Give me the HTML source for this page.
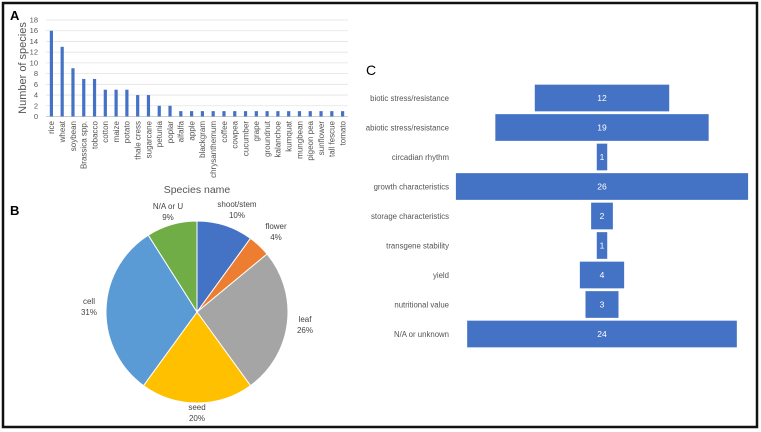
<!DOCTYPE html>
<html><head><meta charset="utf-8"><style>
body{margin:0;background:#fff;width:761px;height:432px;overflow:hidden}
svg{display:block;font-family:"Liberation Sans",sans-serif}
</style></head><body>
<svg id="s" width="761" height="432">
<rect x="3" y="3" width="754" height="424" fill="none" stroke="#111" stroke-width="2.5"/>
<text x="10" y="20" font-size="13" font-weight="bold">A</text>
<text x="10" y="215" font-size="13" font-weight="bold">B</text>
<text x="366" y="75" font-size="14">C</text>
<g id="ga"></g>
<g id="gb"></g>
<g id="gc"></g>
</svg>
<script>
const species=["rice","wheat","soybean","Brassica spp.","tobacco","cotton","maize","potato","thale cress","sugarcane","petunia","poplar","alfalfa","apple","blackgram","chrysanthemum","coffee","cowpea","cucumber","grape","groundnut","kalanchoe","kumquat","mungbean","pigeon pea","sunflower","tall fescue","tomato"];
const speciesCounts=[16,13,9,7,7,5,5,5,4,4,2,2,1,1,1,1,1,1,1,1,1,1,1,1,1,1,1,1];
const yTicks=[0,2,4,6,8,10,12,14,16,18];
const tissues=["shoot/stem","flower","leaf","seed","cell","N/A or U"];
const tissuePct=[10,4,26,20,31,9];
const traits=["biotic stress/resistance","abiotic stress/resistance","circadian rhythm","growth characteristics","storage characteristics","transgene stability","yield","nutritional value","N/A or unknown"];
const traitCounts=[12,19,1,26,2,1,4,3,24];
const NS="http://www.w3.org/2000/svg";
function mk(p,t,a,txt){const e=document.createElementNS(NS,t);for(const k in a)e.setAttribute(k,a[k]);if(txt!==undefined)e.textContent=txt;p.appendChild(e);return e;}
// A
const ga=document.getElementById('ga');
const x0=46,x1=348,yb=116.5,yt=20;
const yS=v=>yb-(v/18)*(yb-yt);
const step=(x1-x0)/species.length;
const xS=i=>x0+step*(i+0.5);
yTicks.forEach(v=>{
 let l=mk(ga,'line',{x1:x0,x2:x1,y1:yS(v),y2:yS(v),stroke:v?'#e3e3e3':'#bbb','stroke-width':0.8});
 
 let t=mk(ga,'text',{x:38,y:yS(v)+2.5,'font-size':7.5,fill:'#555','text-anchor':'end'},v);
 
});
species.forEach((s,i)=>{
 let r=mk(ga,'rect',{x:xS(i)-1.6,y:yS(speciesCounts[i]),width:3.2,height:yb-yS(speciesCounts[i]),fill:'#4472c4'});
 
 let t=mk(ga,'text',{x:0,y:0,'font-size':8,fill:'#555','text-anchor':'end',transform:`translate(${xS(i)+2.8},121) rotate(-90)`},s);
 
});
let yl=mk(ga,'text',{x:0,y:0,'font-size':11,fill:'#555','text-anchor':'middle',transform:'translate(26,68) rotate(-90)'},'Number of species');

let xl=mk(ga,'text',{x:197,y:193,'font-size':10.5,fill:'#555','text-anchor':'middle'},'Species name');

// B
const gb=document.getElementById('gb');
const cx=197,cy=312,R=91;
const cols=['#4472c4','#ed7d31','#a5a5a5','#ffc000','#5b9bd5','#70ad47'];
const labPos=[[237,207],[276,229],[305,322],[197,410],[89,304],[168,209]];
const tot=tissuePct.reduce((a,b)=>a+b,0);
let acc=0;
tissuePct.forEach((v,i)=>{
 const a0=acc/tot*2*Math.PI;acc+=v;const a1=acc/tot*2*Math.PI;
 const p=a=>[cx+R*Math.sin(a),cy-R*Math.cos(a)];
 const [sx,sy]=p(a0),[ex,ey]=p(a1);
 let pa=mk(gb,'path',{d:`M${cx},${cy}L${sx},${sy}A${R},${R} 0 ${a1-a0>Math.PI?1:0} 1 ${ex},${ey}Z`,fill:cols[i],stroke:'#fff','stroke-width':1});
 
 const [lx,ly]=labPos[i];
 let t1=mk(gb,'text',{x:lx,y:ly,'font-size':8,fill:'#444','text-anchor':'middle'},tissues[i]);
 
 let t2=mk(gb,'text',{x:lx,y:ly+11,'font-size':8,fill:'#444','text-anchor':'middle'},v+'%');
 
});
// C
const gc=document.getElementById('gc');
const fc=602,unit=293/26,ry0=98,rstep=29.5,bh=27.5;
traits.forEach((tr,i)=>{
 const y=ry0+i*rstep,w=traitCounts[i]*unit;
 let r=mk(gc,'rect',{x:fc-w/2,y:y-bh/2,width:w,height:bh,fill:'#4472c4',stroke:'#fff','stroke-width':0.8});
 
 let v=mk(gc,'text',{x:fc,y:y+3,'font-size':8.5,fill:'#fff','text-anchor':'middle'},traitCounts[i]);
 
 let l=mk(gc,'text',{x:449,y:y+3,'font-size':7.8,fill:'#555','text-anchor':'end'},tr);
 
});
</script>
</body></html>
